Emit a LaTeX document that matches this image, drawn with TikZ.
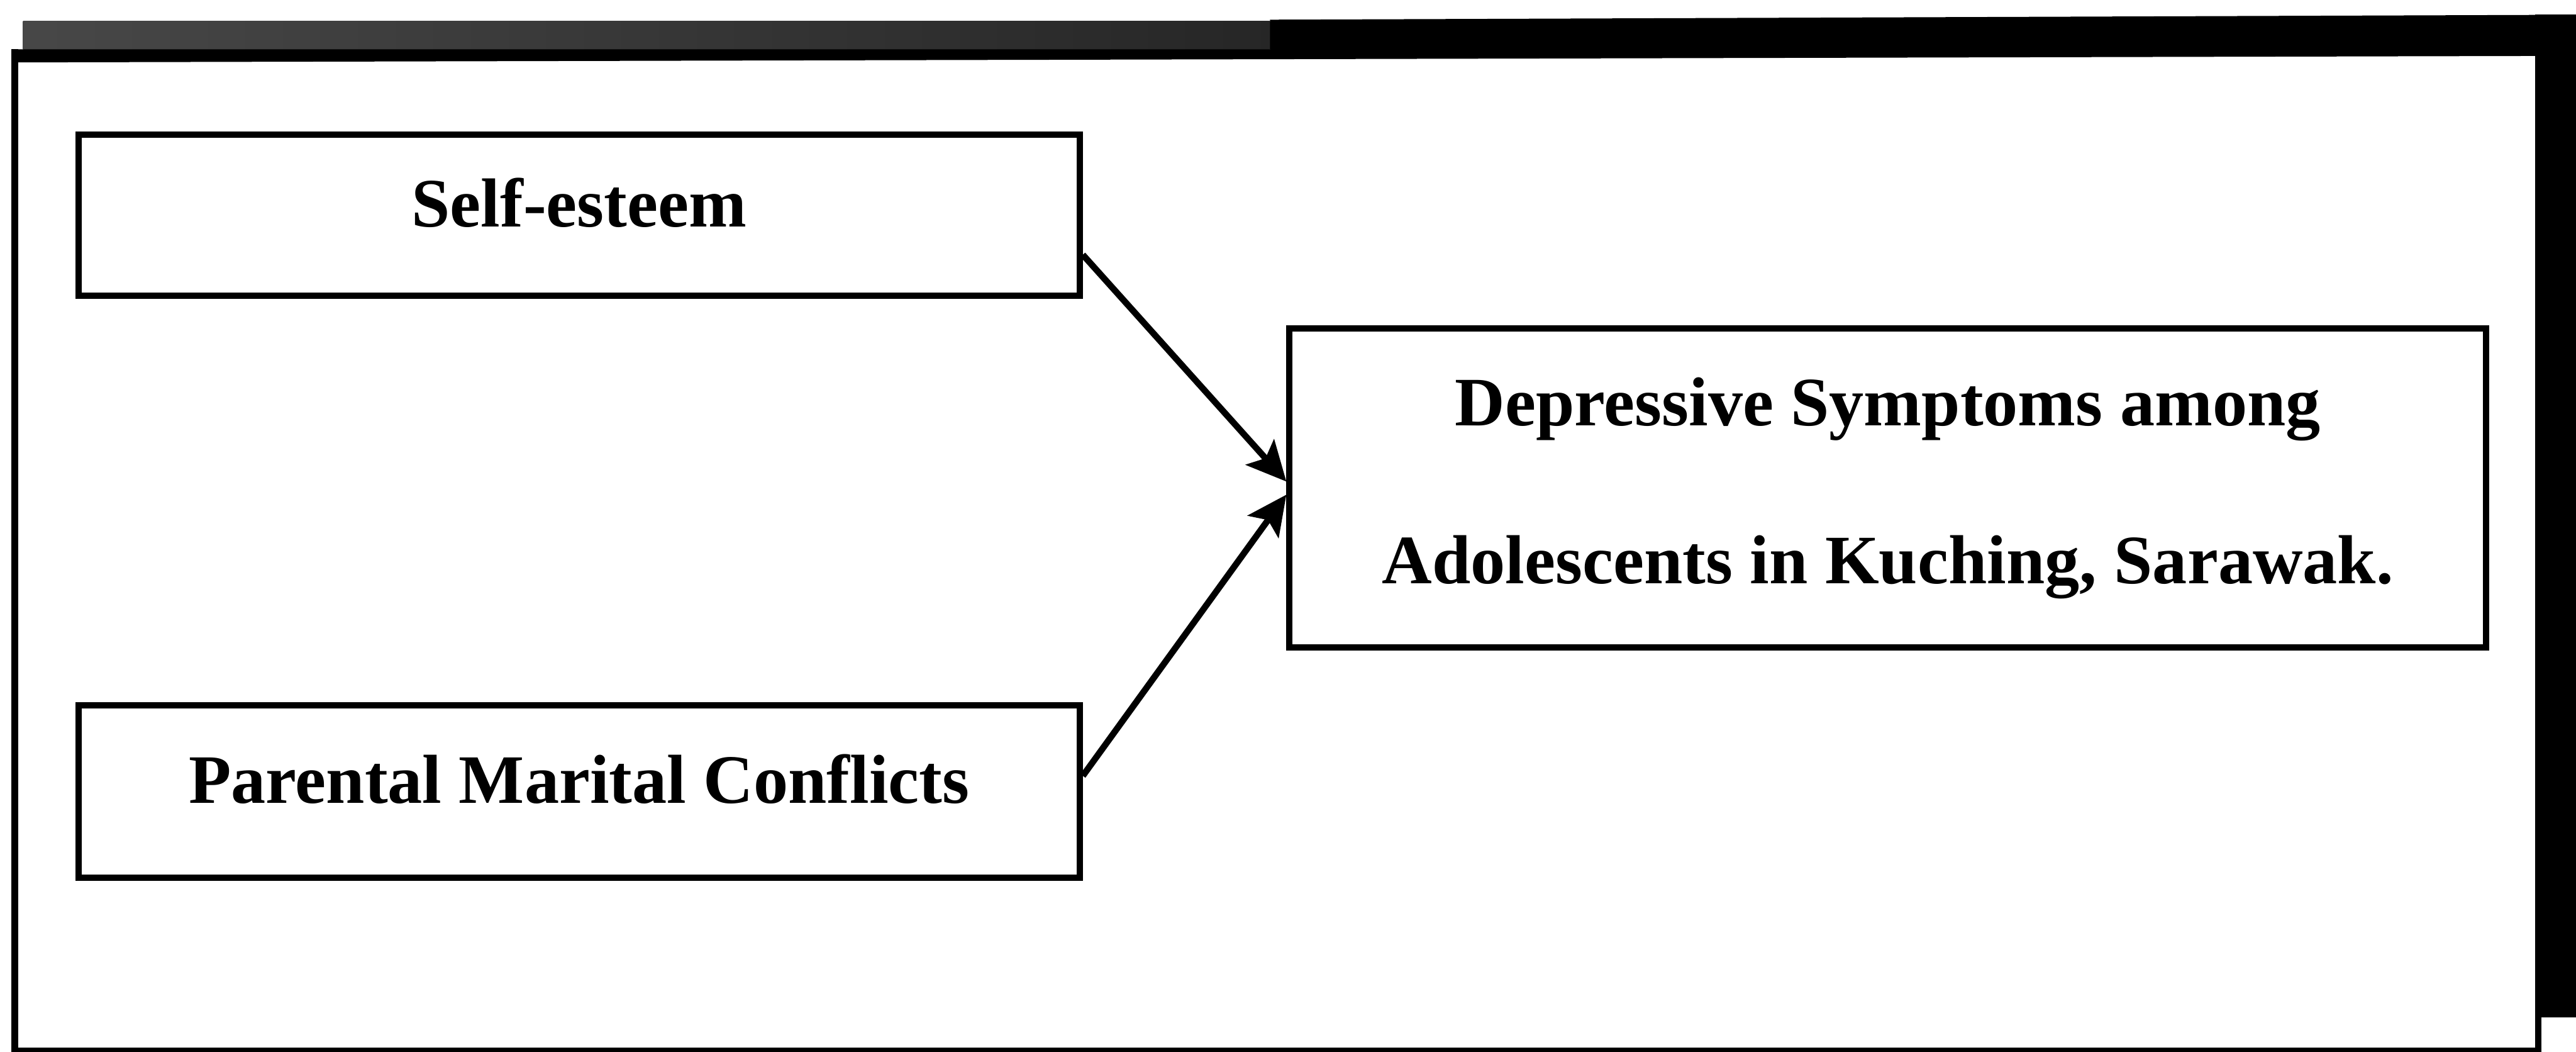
\documentclass[tikz,border=0pt]{standalone}
\usepackage{fontspec}
\setmainfont{Liberation Serif}
\usetikzlibrary{positioning, arrows.meta, calc}

\begin{document}
\begin{tikzpicture}[
    x=0.01cm, y=0.01cm,
    node distance=2.45cm and 1.26cm,
    block/.style={rectangle, draw, line width=1.1pt, inner sep=0pt, text centered, minimum width=6.09cm, font=\fontsize{12}{14}\selectfont\bfseries, text height=8pt, text depth=4pt},
    outcome/.style={rectangle, draw, line width=1.1pt, inner sep=0pt, align=center, minimum width=7.28cm, minimum height=1.94cm, font=\fontsize{12}{27.3}\selectfont\bfseries},
    arrow/.style={line width=1.1pt, -{Stealth[length=2.4mm, width=2.3mm, inset=0.5mm]}}
]
    \useasboundingbox (0,0) rectangle (1568,640);

    % scanned frame round the figure
    \fill [left color=black!72, right color=black!85] (14,610) rectangle (773,627);
    \fill (8,602) -- (1568,606) -- (1568,631) -- (773,628) -- (773,610) -- (8,610) -- cycle;
    \fill (1543,21) rectangle (1568,631);
    \fill (1543,0) rectangle (1547,21);
    \fill (7,0) rectangle (1547,2.5);
    \fill (7,0) rectangle (11,610);

    \node [block, minimum height=0.98cm] (selfest) at (352.5,509) {Self-esteem};
    \node [block, minimum height=1.05cm, below=of selfest] (conflict) {Parental Marital Conflicts};
    \node [outcome, anchor=west] (depress) at (783,343) {Depressive Symptoms among\\Adolescents in Kuching, Sarawak.};

    \draw [arrow] ([yshift=-0.24cm]selfest.east) -- ([yshift=0.04cm]depress.west);
    \draw [arrow] ([yshift=0.095cm]conflict.east) -- ([yshift=-0.04cm]depress.west);
\end{tikzpicture}
\end{document}
